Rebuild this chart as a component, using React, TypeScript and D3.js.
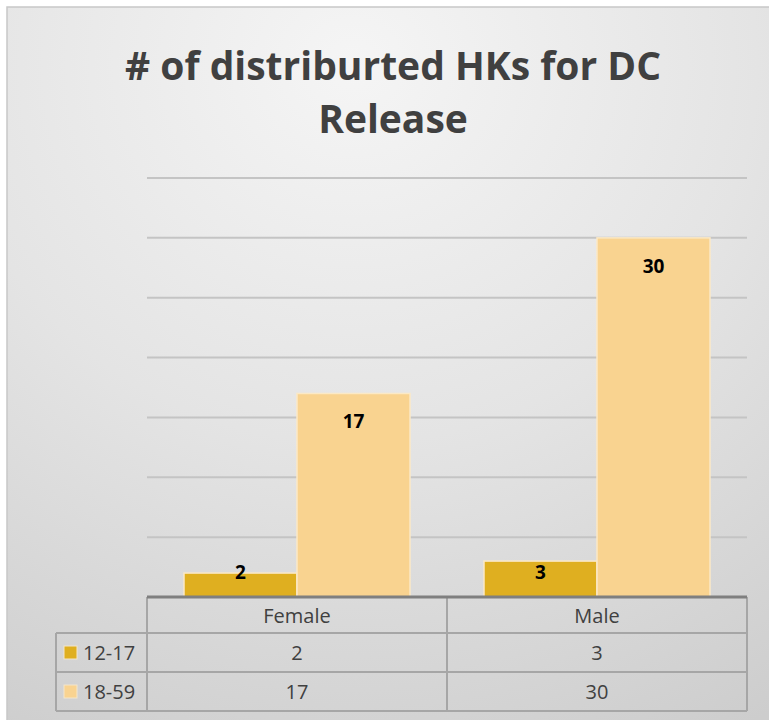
import React from "react";
import { scaleLinear, scaleBand } from "d3";

const categories = ["Female", "Male"];
const seriesNames = ["12-17", "18-59"];
const values1217 = [2, 3];
const values1859 = [17, 30];
const yTicks = [0, 5, 10, 15, 20, 25, 30, 35];
const title = ["# of distriburted HKs for DC", "Release"];

const colors = ["#DFAF20", "#F9D390"];
const seriesValues = [values1217, values1859];

export default function App() {
  const W = 769, H = 720;
  const plotL = 147, plotR = 747, plotT = 178, plotB = 597;
  const tableL = 56;

  const y = scaleLinear().domain([0, 35]).range([plotB, plotT]);
  const x0 = scaleBand().domain(categories).range([plotL, plotR]);
  const x1 = scaleBand().domain(seriesNames).range([37, 263]);

  // header row, then one row per series
  const rowY = [plotB, plotB + 36, plotB + 75, plotB + 114];
  const font = "'Open Sans', Calibri, sans-serif";

  return (
    <svg width={W} height={H} style={{ position: "absolute", left: 0, top: 0 }}>
      <defs>
        <radialGradient id="bg" cx="0.45" cy="0.08" r="1.05" fx="0.45" fy="0.08">
          <stop offset="0" stopColor="#f5f5f5" />
          <stop offset="0.5" stopColor="#e4e4e4" />
          <stop offset="1" stopColor="#cdcdcd" />
        </radialGradient>
      </defs>
      <rect x={0} y={0} width={W} height={H} fill="#fff" />
      <rect x={7} y={7} width={W} height={H} fill="url(#bg)" stroke="#c8c8c8" strokeWidth={1.5} />

      <g fontFamily={font} fontWeight="bold" fill="#404040" textAnchor="middle" fontSize={39}>
        <text x={393} y={80}>{title[0]}</text>
        <text x={393} y={133}>{title[1]}</text>
      </g>

      {yTicks.filter((t) => t > 0).map((t) => (
        <line key={t} x1={plotL} x2={plotR} y1={y(t)} y2={y(t)} stroke="#c4c4c4" strokeWidth={2} />
      ))}

      {categories.map((c, ci) => (
        <g key={c} transform={`translate(${x0(c)},0)`}>
          {seriesNames.map((s, si) => {
            const v = seriesValues[si][ci];
            const top = y(v);
            const h = plotB - top;
            const labelC = Math.min(top + 28, plotB - 25);
            return (
              <g key={s}>
                <rect x={x1(s)} y={top} width={x1.bandwidth()} height={h} fill={colors[si]}
                  stroke="#fbe9c6" strokeWidth={1.5} />
                <text x={(x1(s) as number) + x1.bandwidth() / 2} y={labelC + 7} textAnchor="middle"
                  fontFamily={font} fontWeight="bold" fontSize={19} fill="#000">{v}</text>
              </g>
            );
          })}
        </g>
      ))}

      {/* data table */}
      <g stroke="#a6a6a6" strokeWidth={2}>
        <line x1={tableL} x2={plotR} y1={rowY[1]} y2={rowY[1]} />
        <line x1={tableL} x2={plotR} y1={rowY[2]} y2={rowY[2]} />
        <line x1={tableL} x2={plotR} y1={rowY[3]} y2={rowY[3]} />
        <line x1={tableL} x2={tableL} y1={rowY[1]} y2={rowY[3]} />
        <line x1={plotL} x2={plotL} y1={plotB} y2={rowY[3]} />
        <line x1={plotL + x0.bandwidth()} x2={plotL + x0.bandwidth()} y1={plotB} y2={rowY[3]} />
        <line x1={plotR} x2={plotR} y1={plotB} y2={rowY[3]} />
      </g>
      <line x1={plotL} x2={plotR} y1={plotB} y2={plotB} stroke="#7f7f7f" strokeWidth={3} />

      <g fontFamily={font} fontSize={20} fill="#404040" textAnchor="middle">
        {categories.map((c, ci) => (
          <g key={c}>
            <text x={(x0(c) as number) + x0.bandwidth() / 2} y={rowY[0] + 26}>{c}</text>
            {seriesNames.map((s, si) => (
              <text key={s} x={(x0(c) as number) + x0.bandwidth() / 2} y={rowY[si + 1] + 27}>
                {seriesValues[si][ci]}
              </text>
            ))}
          </g>
        ))}
      </g>
      {seriesNames.map((s, si) => (
        <g key={s}>
          <rect x={64} y={rowY[si + 1] + 13} width={13} height={13} fill={colors[si]} stroke="#f3e6cc" strokeWidth={1} />
          <text x={83} y={rowY[si + 1] + 27} fontFamily={font} fontSize={20} fill="#404040">{s}</text>
        </g>
      ))}
    </svg>
  );
}
